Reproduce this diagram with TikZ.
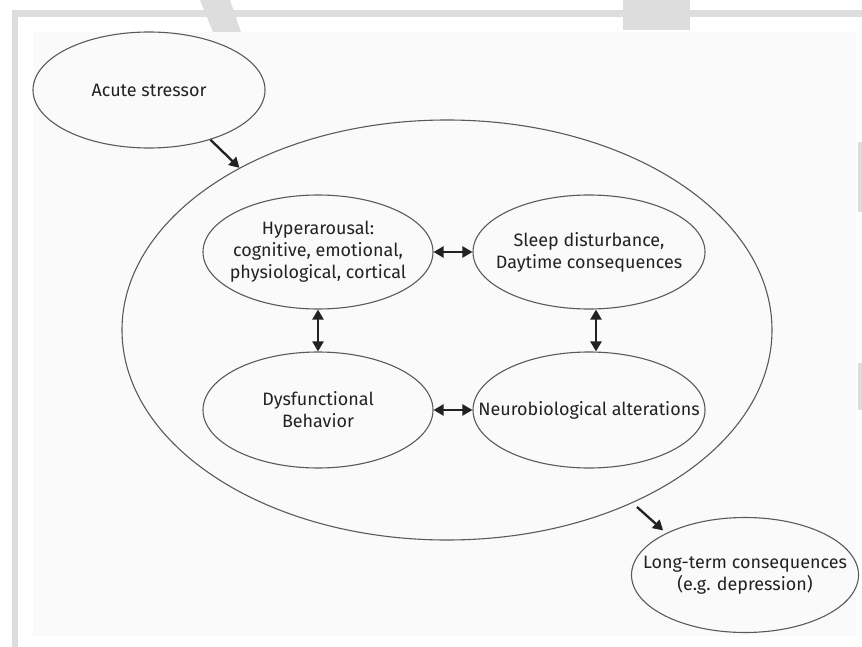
\documentclass[tikz,border=0pt]{standalone}
\usepackage{fontspec}
\setmainfont{Fira Sans}
\usetikzlibrary{shapes.geometric,arrows.meta}
\definecolor{framegray}{HTML}{DDDDDD}
\definecolor{papergray}{HTML}{FAFAFA}
\definecolor{linegray}{HTML}{5A5A5A}
\definecolor{inkgray}{HTML}{222222}
\tikzset{
  bubble/.style={draw=linegray, line width=1.1bp, ellipse, inner sep=0pt},
  txt/.style={align=center, text=inkgray, font=\fontsize{18}{22}\selectfont},
  link/.style={inkgray, line width=2.3bp, -{Triangle[length=10bp,width=11bp]}},
  dlink/.style={inkgray, line width=2.3bp, {Triangle[length=10bp,width=11bp]}-{Triangle[length=10bp,width=11bp]}}
}
\begin{document}
\begin{tikzpicture}[x=1bp,y=-1bp]
\useasboundingbox (0,0) rectangle (862,647);
% page frame
\fill[white] (0,0) rectangle (862,647);
\fill[papergray] (33,32) rectangle (856,636);
\fill[framegray] (12,10) rectangle (862,17);
\fill[framegray] (12,10) rectangle (18,647);
\fill[framegray] (200,0) -- (230,0) -- (241,32) -- (213,32) -- cycle;
\fill[framegray] (623,0) rectangle (690,30);
\fill[framegray] (858,142) rectangle (862,212);
\fill[framegray] (858,363) rectangle (862,410);

% bubbles
\node[bubble, minimum width=232bp, minimum height=116bp,
  label={[txt]center:Acute stressor}] (acute) at (149,90) {};
\node[bubble, minimum width=650bp, minimum height=420bp] (core) at (447,330) {};
\node[bubble, minimum width=230bp, minimum height=114bp,
  label={[txt]center:Hyperarousal:\\cognitive, emotional,\\physiological, cortical}] (hyper) at (318,252) {};
\node[bubble, minimum width=232bp, minimum height=114bp,
  label={[txt]center:Sleep disturbance,\\Daytime consequences}] (sleep) at (589,252) {};
\node[bubble, minimum width=230bp, minimum height=116bp,
  label={[txt]center:Dysfunctional\\Behavior}] (dysf) at (318,410) {};
\node[bubble, minimum width=232bp, minimum height=116bp,
  label={[txt]center:Neurobiological alterations}] (neuro) at (589,410) {};
\node[bubble, minimum width=227bp, minimum height=115bp,
  label={[txt]center:Long-term consequences\\(e.g. depression)}] (longterm) at (745,575) {};

% arrows
\draw[link] (acute.-39) -- (core.142);
\draw[link, shorten <=6bp, shorten >=4bp] (core.-43) -- (longterm.152);
\draw[dlink] (hyper.east) -- (sleep.west);
\draw[dlink] (dysf.east) -- (neuro.west);
\draw[dlink] (hyper.south) -- (dysf.north);
\draw[dlink] ([xshift=7bp]sleep.south) -- ([xshift=7bp]neuro.north);
\end{tikzpicture}
\end{document}
